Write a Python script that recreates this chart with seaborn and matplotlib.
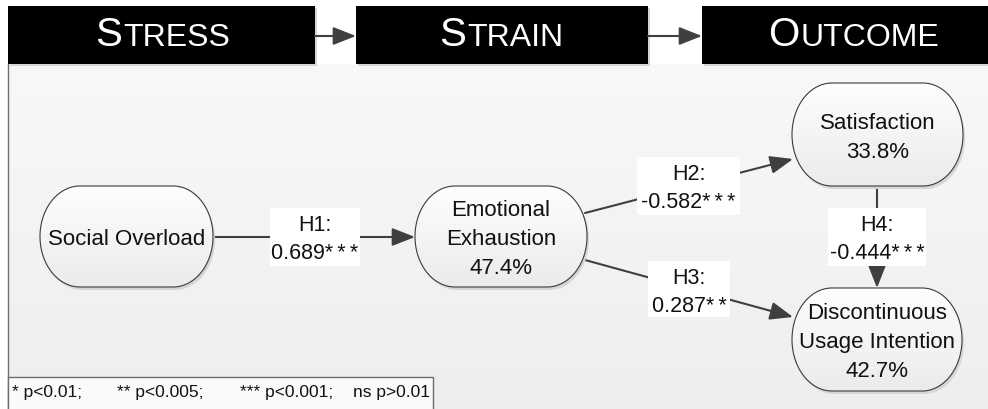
import numpy as np
import matplotlib
matplotlib.use("Agg")
import matplotlib.pyplot as plt
import seaborn as sns
from matplotlib.patches import Rectangle, Polygon, FancyArrowPatch
from matplotlib.colors import LinearSegmentedColormap
from matplotlib import font_manager

# ---------------- data ----------------
stages = ["Stress", "Strain", "Outcome"]
constructs = ["Social Overload", "Emotional\nExhaustion", "Satisfaction",
              "Discontinuous\nUsage Intention"]
r_squared = [np.nan, 47.4, 33.8, 42.7]
hypotheses = ["H1", "H2", "H3", "H4"]
path_from = [0, 1, 1, 2]
path_to = [1, 2, 3, 3]
path_coef = [0.689, -0.582, 0.287, -0.444]
path_sig = ["***", "***", "**", "***"]
sig_legend = ["* p<0.01;", "** p<0.005;", "*** p<0.001;", "ns p>0.01"]

# ---------------- layout (pixels, y down) ----------------
W, H = 988, 410
stage_boxes = [(8, 315), (356, 648), (702, 992)]
stage_top, stage_bot = 7, 65
stage_cx = [163, 501, 854]
stage_baseline = 46.5
node_boxes = [(40, 187, 213, 288), (415, 187, 587, 288),
              (792, 84, 963, 187), (792, 289, 962, 392)]
edge_pts = [((213, 238), (415, 238)), ((585, 214), (793, 160)),
            ((585, 261), (793, 318)), ((877, 187), (877, 289))]
label_boxes = [(270, 209, 360, 267), (637, 158, 740, 216),
               (648, 262, 730, 318), (828, 209, 926, 267)]
legend_box = (8, 378, 433, 414)
legend_x = [12, 117, 240, 430]
legend_ha = ["left", "left", "left", "right"]

sns.set_theme(style="white")
plt.rcParams["font.family"] = ["Liberation Sans", "DejaVu Sans"]
names = {f.name for f in font_manager.fontManager.ttflist}
head_font = "Liberation Sans Narrow" if "Liberation Sans Narrow" in names else "Liberation Sans"

fig = plt.figure(figsize=(W / 100, H / 100), dpi=100)
fig.patch.set_facecolor("white")
ax = fig.add_axes([0, 0, 1, 1])
ax.set_xlim(0, W)
ax.set_ylim(H, 0)
ax.axis("off")

line_col = "#3f3f3f"

# panel background
panel_cmap = LinearSegmentedColormap.from_list("panel", ["#f8f8f8", "#eeeeee"])
ax.imshow(np.linspace(0, 1, 256).reshape(-1, 1), extent=[8, W, H, stage_bot],
          cmap=panel_cmap, aspect="auto", zorder=0, interpolation="bilinear")
ax.plot([8, 8], [stage_bot, H], color="#707070", lw=1.0, zorder=1)

# stage headers
renderer = fig.canvas.get_renderer()
for (x0, x1), name, cx in zip(stage_boxes, stages, stage_cx):
    ax.add_patch(Rectangle((x0 + 1.5, stage_top + 1.5), x1 - x0, stage_bot - stage_top,
                           fc="#d6d6d6", ec="none", zorder=1))
    ax.add_patch(Rectangle((x0, stage_top), x1 - x0, stage_bot - stage_top,
                           fc="black", ec="none", zorder=2))
    up = name.upper()
    t1 = ax.text(0, stage_baseline, up[0], color="white", fontsize=29,
                 family=head_font, ha="left", va="baseline", zorder=3)
    t2 = ax.text(0, stage_baseline, up[1:], color="white", fontsize=23,
                 family=head_font, ha="left", va="baseline", zorder=3)
    w1 = t1.get_window_extent(renderer).width
    w2 = t2.get_window_extent(renderer).width
    start = cx - (w1 + w2 + 1) / 2
    t1.set_x(start)
    t2.set_x(start + w1 + 1)

def arrow(p0, p1):
    ax.add_patch(FancyArrowPatch(p0, p1, arrowstyle="-|>,head_length=14,head_width=5.5",
                                 mutation_scale=1, lw=1.5, color=line_col,
                                 shrinkA=0, shrinkB=0, zorder=3))

# header arrows
for (a0, a1), (b0, b1) in zip(stage_boxes[:-1], stage_boxes[1:]):
    arrow((a1, 37), (b0, 37))

# nodes
node_cmap = LinearSegmentedColormap.from_list("node", ["#fefefe", "#ebebeb"])

def stadium(x0, y0, x1, y1, rx=40):
    cy = (y0 + y1) / 2
    ry = (y1 - y0) / 2
    t = np.linspace(-np.pi / 2, np.pi / 2, 80)
    right = np.column_stack([x1 - rx + rx * np.cos(t), cy + ry * np.sin(t)])
    left = np.column_stack([x0 + rx - rx * np.cos(t), cy - ry * np.sin(t)])
    return np.vstack([right, left])

for (x0, y0, x1, y1), name, r2 in zip(node_boxes, constructs, r_squared):
    pts = stadium(x0, y0, x1, y1)
    ax.add_patch(Polygon(pts + np.array([2, 3]), closed=True, fc="#d6d6d6", ec="none", zorder=4))
    body = Polygon(pts, closed=True, fc="none", ec="none", zorder=5)
    ax.add_patch(body)
    im = ax.imshow(np.linspace(0, 1, 128).reshape(-1, 1), extent=[x0, x1, y1, y0],
                   cmap=node_cmap, aspect="auto", zorder=5, interpolation="bilinear")
    im.set_clip_path(body)
    ax.add_patch(Polygon(pts, closed=True, fill=False, ec="#3a3a3a", lw=0.8, zorder=6))
    lines = name.split("\n")
    if not np.isnan(r2):
        lines.append(f"{r2:.1f}%")
    cy = (y0 + y1) / 2
    n = len(lines)
    for i, ln in enumerate(lines):
        yc = cy + (i - (n - 1) / 2) * 29
        ax.text((x0 + x1) / 2, yc + 8, ln, fontsize=16, ha="center", va="baseline",
                color="#111111", zorder=7)

# paths
for (p0, p1), (lx0, ly0, lx1, ly1), hyp, coef, sig in zip(edge_pts, label_boxes, hypotheses,
                                                           path_coef, path_sig):
    arrow(p0, p1)
    ax.add_patch(Rectangle((lx0, ly0), lx1 - lx0, ly1 - ly0, fc="white", ec="none", zorder=8))
    cx = (lx0 + lx1) / 2
    ax.text(cx, ly0 + 22, f"{hyp}:", fontsize=15.5, ha="center", va="baseline",
            color="#111111", zorder=9)
    ax.text(cx, ly0 + 50, f"{coef:.3f}" + "\u2009".join(sig), fontsize=15.5, ha="center",
            va="baseline", color="#111111", zorder=9)

# significance legend
lx0, ly0, lx1, ly1 = legend_box
ax.add_patch(Rectangle((lx0, ly0), lx1 - lx0, ly1 - ly0, fc="#fafafa", ec="#6e6e6e",
                       lw=1.0, zorder=8))
for x, s, ha in zip(legend_x, sig_legend, legend_ha):
    ax.text(x, 397, s, fontsize=12.5, ha=ha, va="baseline", color="#111111", zorder=9)

fig.savefig("out.png", dpi=100)
